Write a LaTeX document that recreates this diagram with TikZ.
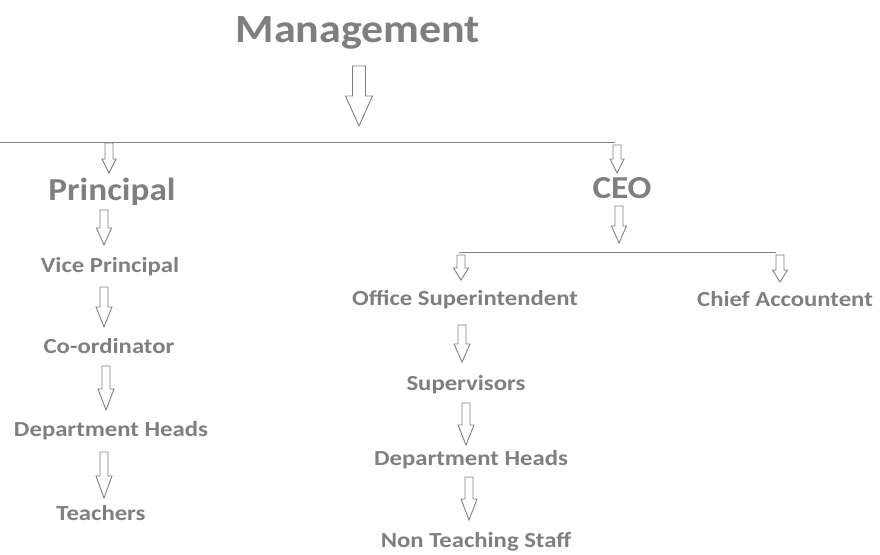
\documentclass[tikz,border=0pt]{standalone}
\usepackage{fontspec}
\setmainfont{Carlito}
\newfontfamily\bigfam{Carlito}[FakeStretch=1.1]
\newfontfamily\smfam{Carlito}[FakeStretch=1.15]
\definecolor{txtgray}{HTML}{7F7F7F}
\definecolor{lngray}{HTML}{808080}
\tikzset{
  txt/.style={text=txtgray, font=\smfam\bfseries\fontsize{21.5}{24}\selectfont, inner sep=0pt, anchor=base},
  bigtxt/.style={txt, font=\bigfam\bfseries\fontsize{32}{36}\selectfont},
  hugetxt/.style={txt, font=\bigfam\bfseries\fontsize{40}{48}\selectfont},
  ln/.style={draw=lngray, line width=1pt},
  arr/.style={draw=lngray, line width=0.9pt, fill=white, line join=miter},
}
% x, ytop, ybot, shaft half width, head half width, head length
\newcommand\blockarr[6]{%
  \draw[arr] ({#1-#4},#2) -- ({#1+#4},#2) -- ({#1+#4},{#3-#6}) -- ({#1+#5},{#3-#6})
    -- (#1,#3) -- ({#1-#5},{#3-#6}) -- ({#1-#4},{#3-#6}) -- cycle;}
\begin{document}
\begin{tikzpicture}[x=1pt,y=-1pt]
\useasboundingbox (0,0) rectangle (880,554);
% titles
\node[hugetxt] (mgmt) at (358,42) {Management};
\node[bigtxt] (prin) at (112,200) {Principal};
\node[bigtxt] (ceo) at (622,198) {CEO};
% left column
\node[txt] (vp) at (110,272) {Vice Principal};
\node[txt] (coord) at (109,353) {Co-ordinator};
\node[txt] (dh1) at (111,436) {Department Heads};
\node[txt] (teach) at (101,520) {Teachers};
% right column
\node[txt] (os) at (465,305) {Office Superintendent};
\node[txt] (ca) at (785,306) {Chief Accountent};
\node[txt] (sup) at (466,390) {Supervisors};
\node[txt] (dh2) at (471,465) {Department Heads};
\node[txt] (nts) at (476,547) {Non Teaching Staff};
% connector lines
\coordinate (l1a) at (0,142.5);
\coordinate (l1b) at (615,142.5);
\draw[ln] (l1a) -- (l1b);
\coordinate (l2a) at (459,252);
\coordinate (l2b) at (776,252);
\draw[ln] (l2a) -- (l2b);
% block arrows
\blockarr{359}{66}{126}{6.5}{13.5}{30}
\blockarr{109}{143}{173}{4}{7}{14}
\blockarr{617}{145}{173}{4}{7}{14}
\blockarr{104}{210}{245}{4}{7.5}{17}
\blockarr{104}{287}{327}{4}{8}{20}
\blockarr{106}{366}{410}{4}{8}{21}
\blockarr{104}{452}{498}{4}{8}{22}
\blockarr{619}{206}{243}{4}{7.5}{17}
\blockarr{461}{255}{280}{4}{7.5}{12}
\blockarr{780}{255}{282}{4}{7.5}{12}
\blockarr{462}{325}{362}{4}{8}{18}
\blockarr{466}{403}{445}{4}{8}{20}
\blockarr{469}{477}{520}{4}{8}{21}
\end{tikzpicture}
\end{document}
